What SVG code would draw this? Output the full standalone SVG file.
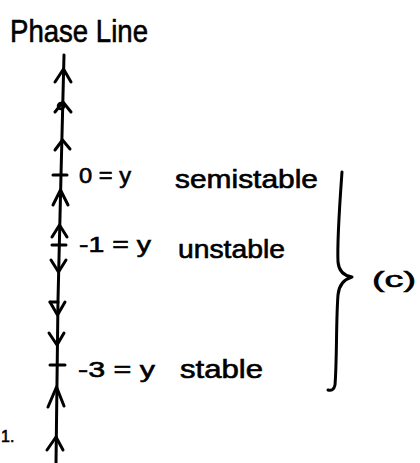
<svg xmlns="http://www.w3.org/2000/svg" width="420" height="463" viewBox="0 0 420 463">
  <style>
    .ink { fill: none; stroke: #000; stroke-width: 3; stroke-linecap: round; stroke-linejoin: round; }
    .txt { font-family: "Liberation Sans", "DejaVu Sans", sans-serif; fill: #000; stroke: #000; stroke-width: 0.6; }
  </style>
  <rect width="420" height="463" fill="#fff"/>
  <g id="title">
    <text class="txt" x="10" y="42" font-size="32" textLength="138" lengthAdjust="spacingAndGlyphs">Phase Line</text>
  </g>
  <g id="connectors">
    <path id="phase-line" class="ink" d="M64,55 L61,175 L58,300 L56,463"/>
    <!-- up chevrons -->
    <path class="ink" d="M55,82 L63.5,69 L71,82"/>
    <path class="ink" d="M55,112 L63,102 L71,112"/>
    <path class="ink" d="M55,150 L62.5,140 L70,149"/>
    <path class="ink" d="M53,205 L60.5,190 L68,205"/>
    <path class="ink" d="M52,237 L59.5,225 L67,237"/>
    <!-- down chevrons -->
    <path class="ink" d="M51,260 L58.5,272 L66,260"/>
    <path class="ink" d="M50,302 L57.5,315 L65,302"/>
    <path class="ink" d="M49,333 L57,345 L64,333"/>
    <!-- up chevrons below -->
    <path class="ink" d="M48,407 L56.5,387 L64,406"/>
    <path class="ink" d="M47,450 L56,437 L63,450"/>
  </g>
  <g id="eq-0">
    <line class="ink" x1="53" y1="175" x2="67" y2="175"/>
    <circle cx="61" cy="106" r="3" fill="none" stroke="#000" stroke-width="2.5"/>
    <text class="txt" x="79" y="183" font-size="22" textLength="52" lengthAdjust="spacingAndGlyphs">0 = y</text>
    <text class="txt" x="175" y="188" font-size="25" textLength="143" lengthAdjust="spacingAndGlyphs">semistable</text>
  </g>
  <g id="eq-1">
    <line class="ink" x1="52" y1="245" x2="66" y2="245"/>
    <text class="txt" x="79" y="252" font-size="22" textLength="72" lengthAdjust="spacingAndGlyphs">-1 = y</text>
    <text class="txt" x="178" y="258" font-size="25" textLength="107" lengthAdjust="spacingAndGlyphs">unstable</text>
  </g>
  <g id="eq-3">
    <line class="ink" x1="50" y1="302" x2="58" y2="302"/>
    <line class="ink" x1="50" y1="365" x2="65" y2="365"/>
    <text class="txt" x="78" y="377" font-size="22" textLength="77" lengthAdjust="spacingAndGlyphs">-3 = y</text>
    <text class="txt" x="180" y="378" font-size="25" textLength="83" lengthAdjust="spacingAndGlyphs">stable</text>
  </g>
  <g id="brace">
    <path class="ink" d="M342,172 C340,200 337,240 338,262 C339,272 345,276 352,277 C345,279 339,284 338,295 C336,320 337,360 335,385 C334,390 331,391 328,390" stroke-width="2.5"/>
    <text class="txt" x="372" y="287" font-size="22" textLength="44" lengthAdjust="spacingAndGlyphs">(c)</text>
  </g>
  <g id="margin-label">
    <text class="txt" x="1" y="442" font-size="16">1.</text>
  </g>
</svg>
